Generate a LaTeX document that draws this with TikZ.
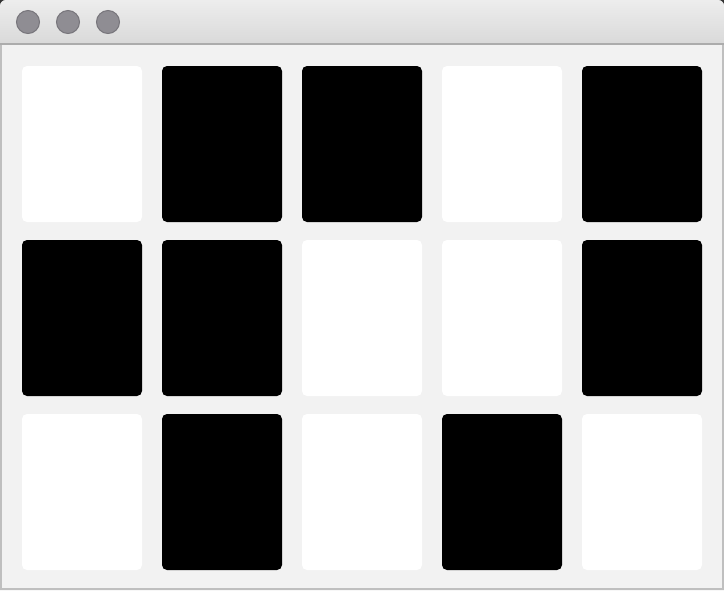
\documentclass[tikz,border=0pt]{standalone}
\usepackage{tikz}

\definecolor{bodygray}{HTML}{F2F2F2}
\definecolor{framegray}{HTML}{BFBFBF}
\definecolor{bartop}{HTML}{EDEDED}
\definecolor{barbottom}{HTML}{D9D9D9}
\definecolor{btnfill}{HTML}{8F8D93}
\definecolor{btnline}{HTML}{77757B}

\tikzset{
  whitecard/.style={fill=white, rounded corners=5pt},
  blackcard/.style={fill=black, rounded corners=5pt},
  winbtn/.style={circle, fill=btnfill, draw=btnline, line width=1pt, minimum size=23pt, inner sep=0pt}
}

\begin{document}
\begin{tikzpicture}[x=1pt, y=-1pt]
\useasboundingbox (0,0) rectangle (724,590);
\fill[black!80] (0,0) rectangle (724,590);
% window frame and title bar
\fill[framegray] (0,590) -- (0,6) [rounded corners=6pt] -- (0,0) -- (724,0) [sharp corners] -- (724,590) -- cycle;
\shade[top color=bartop, bottom color=barbottom, rounded corners=6pt] (0,44) -- (0,0) -- (724,0) [sharp corners] -- (724,44) -- cycle;
\fill[framegray!90!black] (0,42.5) rectangle (724,45);
\fill[bodygray] (2,45) rectangle (722,588);
% buttons
\node[winbtn] (close) at (28,22) {};
\node[winbtn] (min) at (68,22) {};
\node[winbtn] (max) at (108,22) {};
% cards, 1 = black
\foreach \row/\cols in {0/{0,1,1,0,1}, 1/{1,1,0,0,1}, 2/{0,1,0,1,0}} {
  \foreach \c [count=\i from 0] in \cols {
    \ifnum\c=1
      \fill[blackcard] (22+140*\i, 66+174*\row) rectangle ++(120,156);
    \else
      \fill[whitecard] (22+140*\i, 66+174*\row) rectangle ++(120,156);
    \fi
  }
}
\end{tikzpicture}
\end{document}
